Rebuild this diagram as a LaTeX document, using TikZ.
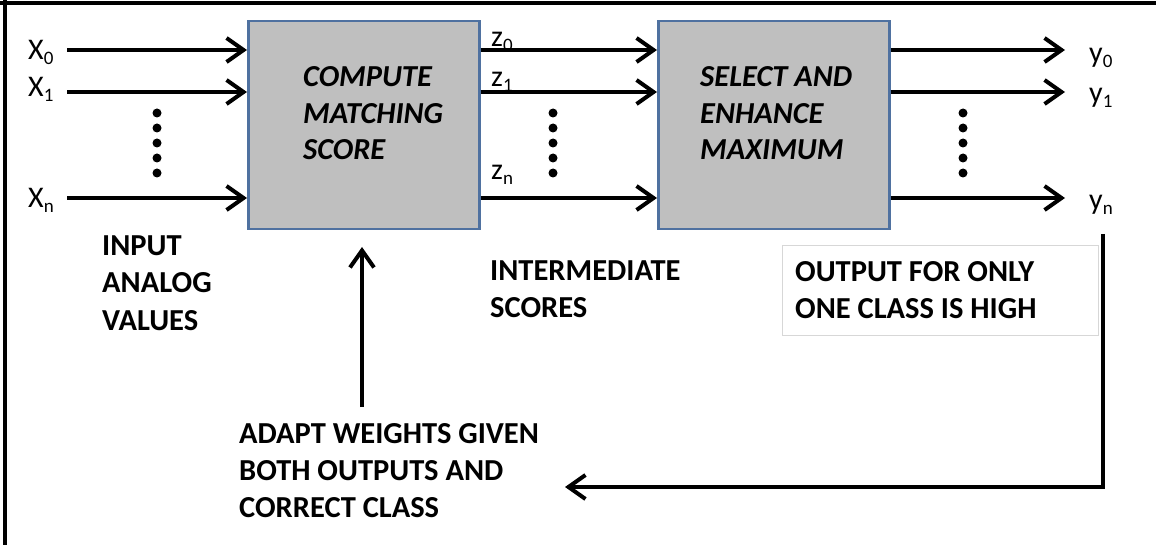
\documentclass[tikz,border=0pt]{standalone}
\usepackage{fontspec}
\setmainfont{Carlito}
\usetikzlibrary{arrows.meta}
\definecolor{boxgray}{RGB}{191,191,191}
\definecolor{boxblue}{RGB}{79,113,160}
\definecolor{lightframe}{RGB}{215,215,215}
\newcommand{\sbs}[1]{\raisebox{-5pt}{\fontsize{19}{19}\selectfont #1}}
\begin{document}
\begin{tikzpicture}[x=1pt,y=-1pt,
  box/.style={draw=boxblue, fill=boxgray, line width=2.5pt, minimum width=231pt, minimum height=208pt, anchor=north west, inner sep=0pt},
  arr/.style={line width=4pt, -{Straight Barb[length=17pt,width=24pt]}},
  lbl/.style={anchor=base west, inner sep=0pt, font=\fontsize{30}{30}\selectfont},
  caption/.style={anchor=base west, inner sep=0pt, align=left, font=\fontsize{30.5}{37}\selectfont\bfseries},
  boxtext/.style={anchor=base west, inner sep=0pt, align=left, font=\fontsize{30.5}{36.5}\selectfont\bfseries\itshape},
  dot/.style={fill=black}
]
\useasboundingbox (0,0) rectangle (1156,545);
% frame
\draw[line width=4pt] (0,3) -- (1156,3);
\draw[line width=3.5pt] (5,0) -- (5,545);

% boxes
\node[box] (b1) at (247,20) {};
\node[box] (b2) at (657,20) {};
\node[boxtext] (t1) at (303,160) {COMPUTE\\MATCHING\\SCORE};
\node[boxtext] (t2) at (700,160) {SELECT AND\\ENHANCE\\MAXIMUM};

% inputs
\coordinate (i0) at (67,50);
\coordinate (i1) at (67,92);
\coordinate (in) at (67,198);
\draw[arr] (i0) -- (i0 -| b1.west);
\draw[arr] (i1) -- (i1 -| b1.west);
\draw[arr] (in) -- (in -| b1.west);
\node[lbl] (x0) at (28,60) {X\sbs{0}};
\node[lbl] (x1) at (28,97) {X\sbs{1}};
\node[lbl] (xn) at (28,208) {X\sbs{n}};

% intermediate
\coordinate (z0s) at (b1.east |- i0);
\coordinate (z1s) at (b1.east |- i1);
\coordinate (zns) at (b1.east |- in);
\draw[arr] (z0s) -- (z0s -| b2.west);
\draw[arr] (z1s) -- (z1s -| b2.west);
\draw[arr] (zns) -- (zns -| b2.west);
\node[lbl] (z0) at (491,47) {z\sbs{0}};
\node[lbl] (z1) at (491,87) {z\sbs{1}};
\node[lbl] (zn) at (491,180) {z\sbs{n}};

% outputs
\coordinate (y0s) at (b2.east |- i0);
\coordinate (y1s) at (b2.east |- i1);
\coordinate (yns) at (b2.east |- in);
\coordinate (y0e) at (1065,50);
\coordinate (y1e) at (1065,92);
\coordinate (yne) at (1065,198);
\draw[arr] (y0s) -- (y0e);
\draw[arr] (y1s) -- (y1e);
\draw[arr] (yns) -- (yne);
\node[lbl] (y0) at (1089,63) {y\sbs{0}};
\node[lbl] (y1) at (1089,103) {y\sbs{1}};
\node[lbl] (yn) at (1089,210) {y\sbs{n}};

% dots
\foreach \xx in {157,553,963}{
  \foreach \yy in {113,128,143,158,173}{
    \fill[dot] (\xx,\yy) circle (4.5pt);
  }
}

% captions
\node[caption] (inp) at (102,330) {INPUT\\ANALOG\\VALUES};
\node[caption] (inter) at (490,317) {INTERMEDIATE\\SCORES};
\node[draw=lightframe, line width=1pt, anchor=north west, inner sep=0pt,
      minimum width=316pt, minimum height=90pt] (outbox) at (782,245) {};
\node[caption] (outtxt) at (795,318) {OUTPUT FOR ONLY\\ONE CLASS IS HIGH};
\node[caption] (adapt) at (239,517) {ADAPT WEIGHTS GIVEN\\BOTH OUTPUTS AND\\CORRECT CLASS};

% adapt arrow
\coordinate (ub) at (362,407);
\coordinate (ut) at (362,247);
\draw[arr] (ub) -- (ut);

% feedback
\coordinate (ft) at (1103,234);
\coordinate (fc) at (1103,487);
\coordinate (fe) at (565,487);
\draw[arr] (ft) -- (fc) -- (fe);
\end{tikzpicture}
\end{document}
